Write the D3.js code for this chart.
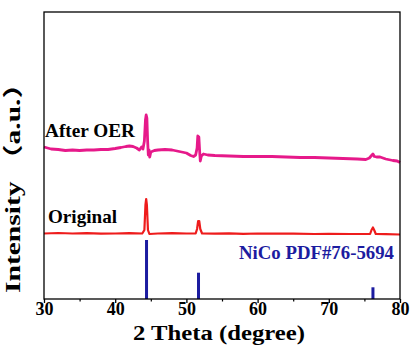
<!DOCTYPE html>
<html>
<head>
<meta charset="utf-8">
<script src="https://cdn.jsdelivr.net/npm/d3@7/dist/d3.min.js"></script>
<style>
  body { margin: 0; background: #fff; }
  .chart text { font-family: "Times New Roman", "Liberation Serif", "Noto Sans CJK SC", serif; font-weight: bold; }
</style>
</head>
<body>
<div class="chart"></div>
<script>
// 2 theta (degree) and intensity (a.u.)
var afterTheta = [30, 30.5, 31, 32, 33, 34, 35, 36, 37, 38, 39, 40, 40.8, 41.5, 42, 42.5, 43, 43.4, 43.7, 43.9,
  44.1, 44.25, 44.35, 44.45, 44.55, 44.65, 44.75, 44.85, 45, 45.5, 46, 47, 48, 49, 50, 50.6, 51, 51.3, 51.5, 51.6,
  51.75, 51.85, 51.95, 52.1, 52.4, 53, 54, 56, 58, 60, 62, 64, 66, 68, 70, 72, 74, 75.2, 75.7, 76,
  76.2, 76.4, 76.7, 77.2, 78, 79, 79.6, 80];
var afterI = [152, 151, 150, 149.5, 148.5, 149, 148.5, 149, 149, 149.5, 149.5, 150.5, 151.5, 152.5, 153, 152.5, 151, 149, 152, 150,
  158, 179, 184, 181, 159, 144, 149, 142, 147, 148.5, 149, 149.5, 149, 147.5, 146, 143.5, 142.5, 144, 151, 163,
  162, 149, 138, 143, 145, 144, 143.5, 143, 142.5, 142.5, 142.5, 142, 141.5, 141.5, 141, 140.5, 140, 139.5, 141, 143.5,
  145, 142.5, 142, 142, 140, 138.5, 138, 136.5];

var origTheta = [30, 32, 34, 36, 38, 40, 42, 43.8, 44.1, 44.25, 44.35, 44.45, 44.6, 44.8, 46, 48, 50, 51.3, 51.5, 51.65,
  51.8, 51.95, 52.2, 54, 56, 58, 60, 62, 65, 68, 70, 73, 75.8, 76, 76.2, 76.4, 76.6, 78, 80];
var origI = [65.5, 66, 65.5, 65.8, 65.3, 65.5, 65.8, 65.5, 69, 94, 100, 94, 69, 65, 65.5, 65.8, 65.5, 65.5, 70, 78,
  78, 70, 65.5, 65.3, 65.6, 65.2, 65.5, 65.3, 65.4, 65, 65.2, 65, 65, 69, 71.5, 68.5, 65, 64.8, 64.5];

var refTheta = [44.4, 51.7, 76.2];
var refI = [59, 26.3, 11.7];

var xTicks = [30, 40, 50, 60, 70, 80];
var xMinor = [35, 45, 55, 65, 75];

function init() {
  var w = 411;
  var h = 347;
  var left = 44, right = 400, top = 12, bottom = 299;

  var xScale = d3.scaleLinear().domain([30, 80]).range([left, right]);
  var yScale = d3.scaleLinear().domain([0, 287]).range([bottom, top]);

  var svg = d3.select(".chart")
    .append("svg")
    .attr("width", w)
    .attr("height", h);

  function pairs(xs, ys) {
    return xs.map(function(x, i) { return [x, ys[i]]; });
  }

  var line = d3.line()
    .x(function(d) { return xScale(d[0]); })
    .y(function(d) { return yScale(d[1]); });

  // reference sticks
  svg.selectAll("rect.ref")
    .data(pairs(refTheta, refI))
    .enter()
    .append("rect")
    .attr("class", "ref")
    .attr("x", function(d) { return xScale(d[0]) - 1.5; })
    .attr("y", function(d) { return yScale(d[1]); })
    .attr("width", 3)
    .attr("height", function(d) { return yScale(0) - yScale(d[1]); })
    .style("fill", "#1c1ca0");

  svg.append("path")
    .datum(pairs(origTheta, origI))
    .attr("d", line)
    .style("fill", "none")
    .style("stroke", "#ee1c1c")
    .style("stroke-width", 2.2)
    .style("stroke-linejoin", "round");

  svg.append("path")
    .datum(pairs(afterTheta, afterI))
    .attr("d", line)
    .style("fill", "none")
    .style("stroke", "#e6198a")
    .style("stroke-width", 2.8)
    .style("stroke-linejoin", "round");

  // frame
  svg.append("rect")
    .attr("x", left)
    .attr("y", top)
    .attr("width", right - left)
    .attr("height", bottom - top)
    .style("fill", "none")
    .style("stroke", "#000")
    .style("stroke-width", 1.3);

  var xAxis = svg.append("g")
    .attr("transform", "translate(0," + bottom + ")")
    .call(d3.axisBottom(xScale).tickValues(xTicks).tickSize(4).tickSizeOuter(0).tickPadding(3));
  xAxis.select(".domain").remove();
  xAxis.selectAll("line").style("stroke-width", 1.3);
  xAxis.selectAll("text")
    .attr("font-size", "18px")
    .attr("fill", "#000")
    .attr("y", 16)
    .attr("dy", null);

  var xAxisMinor = svg.append("g")
    .attr("transform", "translate(0," + bottom + ")")
    .call(d3.axisBottom(xScale).tickValues(xMinor).tickSize(2.5).tickFormat(""));
  xAxisMinor.select(".domain").remove();
  xAxisMinor.selectAll("line").style("stroke-width", 1.2);

  svg.append("text")
    .attr("x", 219)
    .attr("y", 340)
    .attr("text-anchor", "middle")
    .attr("font-size", "20px")
    .attr("textLength", 172)
    .attr("lengthAdjust", "spacingAndGlyphs")
    .text("2 Theta (degree)");

  svg.append("text")
    .attr("transform", "translate(20,293) rotate(-90)")
    .attr("x", 0)
    .attr("y", 0)
    .attr("font-size", "20px")
    .attr("textLength", 224)
    .attr("lengthAdjust", "spacingAndGlyphs")
    .text("Intensity （a.u.）");

  svg.append("text")
    .attr("x", 45)
    .attr("y", 137)
    .attr("font-size", "19px")
    .attr("textLength", 90)
    .attr("lengthAdjust", "spacingAndGlyphs")
    .text("After OER");

  svg.append("text")
    .attr("x", 48)
    .attr("y", 223)
    .attr("font-size", "19px")
    .attr("textLength", 69)
    .attr("lengthAdjust", "spacingAndGlyphs")
    .text("Original");

  svg.append("text")
    .attr("x", 239)
    .attr("y", 259)
    .attr("font-size", "18px")
    .attr("fill", "#1c1ca0")
    .attr("textLength", 155)
    .attr("lengthAdjust", "spacingAndGlyphs")
    .text("NiCo PDF#76-5694");
}

window.onload = init;
</script>
</body>
</html>
